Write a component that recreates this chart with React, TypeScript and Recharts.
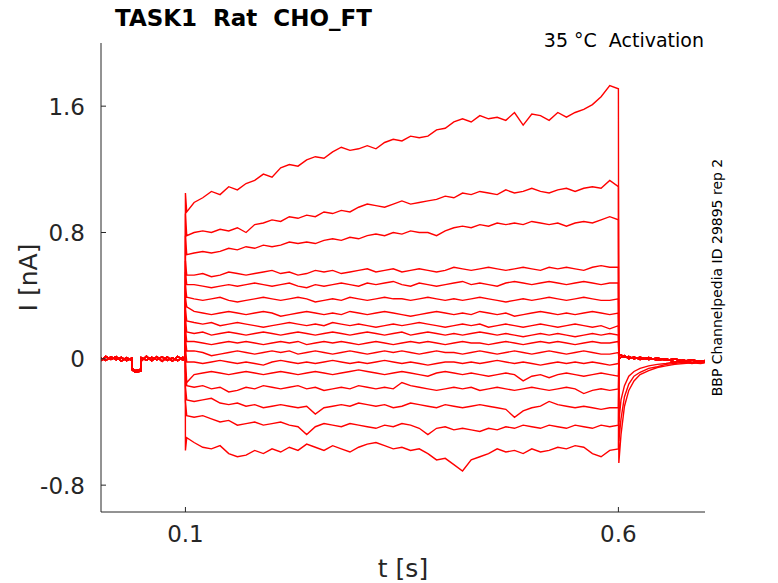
import React from 'react';
import { LineChart, Line, XAxis, YAxis } from 'recharts';

// time grids (s)
const preTimes = [0.0025, 0.008, 0.014, 0.02, 0.026, 0.032, 0.038, 0.0385, 0.042, 0.046, 0.0485, 0.049, 0.055, 0.061, 0.067, 0.073, 0.079, 0.085, 0.091, 0.097, 0.0998];
const spikeTime = 0.1;
const startTime = 0.1015;
const stepTimes = [0.11, 0.12, 0.13, 0.14, 0.15, 0.16, 0.17, 0.18, 0.19, 0.2, 0.21, 0.22, 0.23, 0.24, 0.25, 0.26, 0.27, 0.28, 0.29, 0.3, 0.31, 0.32, 0.33, 0.34, 0.35, 0.36, 0.37, 0.38, 0.39, 0.4, 0.41, 0.42, 0.43, 0.44, 0.45, 0.46, 0.47, 0.48, 0.49, 0.5, 0.51, 0.52, 0.53, 0.54, 0.55, 0.56, 0.57, 0.58, 0.59, 0.6];
const postTimes = [0.6005, 0.603, 0.607, 0.612, 0.618, 0.625, 0.635, 0.645, 0.655, 0.665, 0.675, 0.685, 0.695, 0.6995];

// baseline before the pulse (nA)
const preA = [0.005, -0.01, 0.012, -0.005, 0.01, -0.012, 0.004, -0.06, -0.075, -0.07, -0.065, 0.008, -0.008, 0.01, -0.006, 0.012, -0.01, 0.006, -0.012, 0.01, 0.0];
const preB = [-0.012, 0.015, -0.004, 0.014, -0.015, 0.008, -0.01, -0.07, -0.085, -0.08, -0.078, -0.014, 0.016, -0.012, 0.014, -0.016, 0.012, -0.014, 0.015, -0.008, 0.005];

// currents after the pulse (nA)
const tailA = [-0.66, -0.48, -0.3, -0.2, -0.14, -0.1, -0.075, -0.055, -0.045, -0.035, -0.03, -0.025, -0.03, -0.025];
const tailB = [-0.52, -0.38, -0.24, -0.16, -0.11, -0.085, -0.06, -0.05, -0.035, -0.03, -0.02, -0.03, -0.02, -0.025];
const tailC = [-0.4, -0.26, -0.17, -0.11, -0.08, -0.06, -0.045, -0.035, -0.03, -0.02, -0.015, -0.025, -0.015, -0.02];
const fastA = [0.02, 0.025, 0.01, 0.015, 0.0, 0.01, -0.005, 0.005, -0.01, 0.0, -0.015, -0.005, -0.02, -0.01];
const fastB = [0.0, 0.01, 0.02, 0.0, 0.012, -0.005, 0.008, -0.01, 0.0, -0.02, -0.008, -0.025, -0.012, -0.02];

// transient at pulse onset (nA), one per trace
const spikeValues = [1.05, 0.92, 0.78, 0.62, 0.55, 0.46, 0.38, 0.31, 0.25, 0.19, 0.13, 0.07, 0.0, -0.08, -0.18, -0.27, -0.58];
const startValues = [0.93, 0.78, 0.66, 0.53, 0.47, 0.39, 0.33, 0.24, 0.17, 0.11, 0.05, -0.02, -0.15, -0.17, -0.26, -0.36, -0.5];

// pulse currents (nA) at stepTimes
const i01 = [0.99, 1.02, 1.06, 1.04, 1.09, 1.07, 1.11, 1.13, 1.17, 1.15, 1.21, 1.23, 1.22, 1.26, 1.28, 1.27, 1.31, 1.34, 1.32, 1.33, 1.35, 1.33, 1.37, 1.39, 1.38, 1.41, 1.4, 1.41, 1.45, 1.46, 1.5, 1.52, 1.5, 1.54, 1.52, 1.53, 1.51, 1.56, 1.48, 1.55, 1.54, 1.51, 1.56, 1.53, 1.56, 1.58, 1.61, 1.66, 1.73, 1.71];
const i02 = [0.8, 0.81, 0.8, 0.82, 0.81, 0.83, 0.8, 0.85, 0.86, 0.88, 0.87, 0.9, 0.89, 0.91, 0.9, 0.93, 0.92, 0.94, 0.93, 0.96, 0.98, 0.97, 0.96, 0.98, 1.0, 0.98, 0.99, 1.0, 1.01, 1.03, 1.02, 1.05, 1.04, 1.06, 1.05, 1.04, 1.07, 1.05, 1.06, 1.08, 1.06, 1.05, 1.07, 1.08, 1.06, 1.08, 1.09, 1.08, 1.13, 1.09];
const i03 = [0.67, 0.68, 0.67, 0.68, 0.7, 0.69, 0.71, 0.7, 0.72, 0.71, 0.72, 0.74, 0.73, 0.74, 0.73, 0.75, 0.76, 0.75, 0.77, 0.76, 0.78, 0.79, 0.78, 0.8, 0.79, 0.81, 0.8, 0.8, 0.78, 0.81, 0.83, 0.84, 0.83, 0.85, 0.84, 0.86, 0.85, 0.86, 0.85, 0.87, 0.86, 0.85, 0.86, 0.84, 0.86, 0.87, 0.86, 0.88, 0.9, 0.88];
const i04 = [0.53, 0.54, 0.52, 0.53, 0.55, 0.54, 0.53, 0.54, 0.55, 0.56, 0.54, 0.55, 0.53, 0.54, 0.56, 0.55, 0.56, 0.54, 0.55, 0.56, 0.57, 0.55, 0.56, 0.57, 0.55, 0.56, 0.57, 0.56, 0.55, 0.56, 0.58, 0.57, 0.56, 0.57, 0.58, 0.57, 0.56, 0.57, 0.58, 0.57, 0.56, 0.58, 0.57, 0.58, 0.57, 0.56, 0.58, 0.59, 0.58, 0.58];
const i05 = [0.47, 0.46, 0.45, 0.46, 0.47, 0.46, 0.47, 0.48, 0.47, 0.46, 0.47, 0.48, 0.46, 0.45, 0.47, 0.46, 0.47, 0.48, 0.47, 0.46, 0.48, 0.47, 0.48, 0.49, 0.47, 0.46, 0.48, 0.47, 0.46, 0.47, 0.48, 0.49, 0.47, 0.48, 0.47, 0.46, 0.48, 0.49, 0.48, 0.47, 0.48, 0.49, 0.48, 0.47, 0.48, 0.49, 0.48, 0.47, 0.48, 0.48];
const i06 = [0.38, 0.37, 0.38, 0.39, 0.37, 0.36, 0.37, 0.38, 0.39, 0.38, 0.37, 0.38, 0.39, 0.38, 0.36, 0.37, 0.38, 0.37, 0.39, 0.38, 0.37, 0.38, 0.39, 0.38, 0.38, 0.37, 0.38, 0.39, 0.38, 0.37, 0.38, 0.37, 0.38, 0.39, 0.38, 0.37, 0.36, 0.37, 0.38, 0.37, 0.38, 0.39, 0.38, 0.37, 0.38, 0.39, 0.38, 0.37, 0.37, 0.38];
const i07 = [0.3, 0.29, 0.28, 0.29, 0.3, 0.29, 0.28, 0.29, 0.3, 0.29, 0.27, 0.28, 0.29, 0.3, 0.29, 0.28, 0.29, 0.28, 0.3, 0.29, 0.28, 0.29, 0.3, 0.29, 0.28, 0.27, 0.28, 0.29, 0.3, 0.29, 0.28, 0.29, 0.28, 0.3, 0.29, 0.28, 0.29, 0.27, 0.28, 0.29, 0.3, 0.29, 0.28, 0.29, 0.28, 0.29, 0.3, 0.29, 0.28, 0.29];
const i08 = [0.23, 0.22, 0.23, 0.21, 0.22, 0.23, 0.22, 0.21, 0.2, 0.21, 0.22, 0.23, 0.22, 0.21, 0.22, 0.21, 0.23, 0.22, 0.21, 0.22, 0.21, 0.2, 0.21, 0.22, 0.21, 0.22, 0.23, 0.22, 0.21, 0.2, 0.21, 0.22, 0.21, 0.22, 0.2, 0.21, 0.22, 0.21, 0.2, 0.21, 0.22, 0.21, 0.2, 0.21, 0.22, 0.21, 0.2, 0.21, 0.19, 0.21];
const i09 = [0.16, 0.17, 0.15, 0.16, 0.17, 0.16, 0.15, 0.16, 0.17, 0.16, 0.15, 0.16, 0.17, 0.16, 0.15, 0.16, 0.17, 0.16, 0.15, 0.16, 0.17, 0.16, 0.15, 0.16, 0.17, 0.15, 0.16, 0.17, 0.16, 0.15, 0.16, 0.15, 0.16, 0.17, 0.16, 0.15, 0.16, 0.15, 0.14, 0.15, 0.16, 0.15, 0.16, 0.15, 0.14, 0.15, 0.16, 0.15, 0.16, 0.15];
const i10 = [0.11, 0.1, 0.09, 0.1, 0.11, 0.1, 0.11, 0.1, 0.09, 0.1, 0.11, 0.1, 0.11, 0.09, 0.1, 0.11, 0.1, 0.11, 0.1, 0.09, 0.1, 0.11, 0.1, 0.09, 0.1, 0.11, 0.1, 0.11, 0.1, 0.09, 0.1, 0.11, 0.1, 0.1, 0.09, 0.1, 0.11, 0.1, 0.09, 0.1, 0.11, 0.1, 0.11, 0.1, 0.09, 0.1, 0.11, 0.1, 0.1, 0.11];
const i11 = [0.05, 0.04, 0.02, 0.03, 0.04, 0.05, 0.04, 0.03, 0.04, 0.05, 0.04, 0.05, 0.03, 0.04, 0.05, 0.04, 0.03, 0.04, 0.05, 0.04, 0.03, 0.04, 0.05, 0.04, 0.05, 0.04, 0.03, 0.04, 0.05, 0.04, 0.04, 0.03, 0.04, 0.05, 0.04, 0.03, 0.04, 0.05, 0.04, 0.03, 0.04, 0.05, 0.04, 0.03, 0.04, 0.05, 0.04, 0.03, 0.03, 0.04];
const i12 = [-0.02, -0.03, -0.02, -0.01, -0.02, -0.03, -0.02, -0.03, -0.04, -0.02, -0.01, -0.02, -0.03, -0.02, -0.03, -0.02, -0.01, -0.02, -0.03, -0.02, -0.03, -0.02, -0.01, -0.02, -0.03, -0.02, -0.03, -0.04, -0.03, -0.02, -0.02, -0.03, -0.02, -0.03, -0.02, -0.01, -0.02, -0.03, -0.02, -0.03, -0.04, -0.03, -0.02, -0.03, -0.02, -0.03, -0.02, -0.03, -0.04, -0.03];
const i13 = [-0.1, -0.09, -0.08, -0.09, -0.1, -0.09, -0.08, -0.09, -0.1, -0.09, -0.08, -0.09, -0.1, -0.09, -0.08, -0.09, -0.1, -0.09, -0.08, -0.07, -0.08, -0.09, -0.1, -0.09, -0.08, -0.09, -0.1, -0.11, -0.09, -0.08, -0.09, -0.1, -0.09, -0.1, -0.11, -0.1, -0.09, -0.1, -0.14, -0.11, -0.1, -0.12, -0.1, -0.09, -0.1, -0.11, -0.1, -0.09, -0.1, -0.11];
const i14 = [-0.18, -0.17, -0.19, -0.18, -0.21, -0.2, -0.18, -0.19, -0.17, -0.18, -0.19, -0.18, -0.17, -0.19, -0.18, -0.2, -0.19, -0.18, -0.19, -0.17, -0.18, -0.19, -0.18, -0.19, -0.15, -0.17, -0.18, -0.19, -0.2, -0.19, -0.18, -0.19, -0.18, -0.2, -0.19, -0.18, -0.19, -0.2, -0.19, -0.18, -0.19, -0.2, -0.19, -0.18, -0.19, -0.22, -0.2, -0.19, -0.2, -0.19];
const i15 = [-0.27, -0.26, -0.25, -0.28, -0.29, -0.28, -0.3, -0.29, -0.31, -0.3, -0.29, -0.3, -0.31, -0.3, -0.35, -0.31, -0.3, -0.29, -0.3, -0.28, -0.29, -0.3, -0.29, -0.31, -0.3, -0.28, -0.29, -0.3, -0.31, -0.29, -0.3, -0.31, -0.3, -0.29, -0.3, -0.31, -0.32, -0.37, -0.33, -0.31, -0.3, -0.27, -0.29, -0.3, -0.31, -0.3, -0.31, -0.32, -0.31, -0.31];
const i16 = [-0.37, -0.36, -0.38, -0.4, -0.39, -0.42, -0.41, -0.4, -0.42, -0.41, -0.4, -0.42, -0.43, -0.48, -0.43, -0.41, -0.42, -0.43, -0.41, -0.42, -0.43, -0.44, -0.42, -0.43, -0.41, -0.42, -0.44, -0.48, -0.44, -0.43, -0.45, -0.44, -0.45, -0.46, -0.44, -0.45, -0.43, -0.44, -0.42, -0.43, -0.44, -0.42, -0.43, -0.44, -0.42, -0.43, -0.44, -0.42, -0.43, -0.42];
const i17 = [-0.53, -0.56, -0.57, -0.55, -0.6, -0.62, -0.61, -0.58, -0.6, -0.57, -0.59, -0.56, -0.58, -0.54, -0.56, -0.58, -0.55, -0.57, -0.59, -0.56, -0.54, -0.53, -0.55, -0.57, -0.56, -0.58, -0.57, -0.6, -0.64, -0.63, -0.67, -0.71, -0.64, -0.62, -0.6, -0.57, -0.59, -0.58, -0.6, -0.57, -0.59, -0.58, -0.56, -0.57, -0.55, -0.56, -0.6, -0.62, -0.58, -0.57];

const stepSeries = [i01, i02, i03, i04, i05, i06, i07, i08, i09, i10, i11, i12, i13, i14, i15, i16, i17];
const tailSeries = [tailA, tailB, tailC, fastA, fastB, fastA, fastB, fastA, fastB, fastA, fastB, fastA, fastB, fastA, fastB, fastA, fastB];

const xTicks = [0.1, 0.6];
const yTicks = [-0.8, 0, 0.8, 1.6];

const INK = '#262626';
const FONT = 'DejaVu Sans, Verdana, sans-serif';

const traces = stepSeries.map((vals, k) => {
  const pre = k % 2 === 0 ? preA : preB;
  const pts: { t: number; v: number }[] = [];
  preTimes.forEach((t, i) => pts.push({ t, v: pre[i] }));
  pts.push({ t: spikeTime, v: spikeValues[k] });
  pts.push({ t: startTime, v: startValues[k] });
  stepTimes.forEach((t, i) => pts.push({ t, v: vals[i] }));
  const tail = tailSeries[k];
  postTimes.forEach((t, i) => pts.push({ t, v: tail[i] }));
  return pts;
});

const XTick = (props: any) => {
  const { x, y, payload } = props;
  return (
    <g>
      <line x1={x} x2={x} y1={y} y2={y - 5} stroke={INK} strokeWidth={1} />
      <text x={x} y={y + 30} textAnchor="middle" fontSize={23} fill={INK} fontFamily={FONT}>
        {String(payload.value)}
      </text>
    </g>
  );
};

const YTick = (props: any) => {
  const { x, y, payload } = props;
  const v = payload.value;
  return (
    <g>
      <line x1={x} x2={x + 5} y1={y} y2={y} stroke={INK} strokeWidth={1} />
      <text x={x - 16} y={y + 8.4} textAnchor="end" fontSize={23} fill={INK} fontFamily={FONT}>
        {v === 0 ? '0' : String(v)}
      </text>
    </g>
  );
};

export default function App() {
  return (
    <div style={{ position: 'absolute', left: 0, top: 0, width: 778, height: 583, background: '#fff' }}>
      <LineChart width={778} height={583} margin={{ top: 43, right: 73, bottom: 70, left: 100 }}>
        <XAxis
          type="number"
          dataKey="t"
          domain={[0.0025, 0.7]}
          allowDataOverflow
          ticks={xTicks}
          height={1}
          tickSize={0}
          tickMargin={0}
          tickLine={false}
          tick={(p: any) => <XTick {...p} />}
          axisLine={{ stroke: INK, strokeWidth: 1 }}
        />
        <YAxis
          type="number"
          dataKey="v"
          domain={[-0.97, 2.0]}
          allowDataOverflow
          ticks={yTicks}
          width={1}
          tickSize={0}
          tickMargin={0}
          tickLine={false}
          tick={(p: any) => <YTick {...p} />}
          axisLine={{ stroke: INK, strokeWidth: 1 }}
        />
        {traces.map((d, k) => (
          <Line
            key={k}
            data={d}
            dataKey="v"
            type="linear"
            stroke="#ff0000"
            strokeWidth={1.4}
            dot={false}
            activeDot={false}
            isAnimationActive={false}
          />
        ))}
      </LineChart>
      <svg width={778} height={583} style={{ position: 'absolute', left: 0, top: 0, pointerEvents: 'none' }}>
        <text x={115} y={26} fontSize={23} fontWeight="bold" fill="#000" fontFamily={FONT} style={{ whiteSpace: 'pre' }}>
          {'TASK1  Rat  CHO_FT'}
        </text>
        <text x={704} y={47} fontSize={19} textAnchor="end" fill="#000" fontFamily={FONT} style={{ whiteSpace: 'pre' }}>
          {'35 °C  Activation'}
        </text>
        <text transform="translate(722,277.5) rotate(-90)" fontSize={14} textAnchor="middle" fill="#000" fontFamily={FONT}>
          BBP Channelpedia ID 29895 rep 2
        </text>
        <text x={403} y={577} fontSize={25} textAnchor="middle" fill={INK} fontFamily={FONT}>
          t [s]
        </text>
        <text transform="translate(37,277.5) rotate(-90)" fontSize={25} textAnchor="middle" fill={INK} fontFamily={FONT}>
          I [nA]
        </text>
      </svg>
    </div>
  );
}
